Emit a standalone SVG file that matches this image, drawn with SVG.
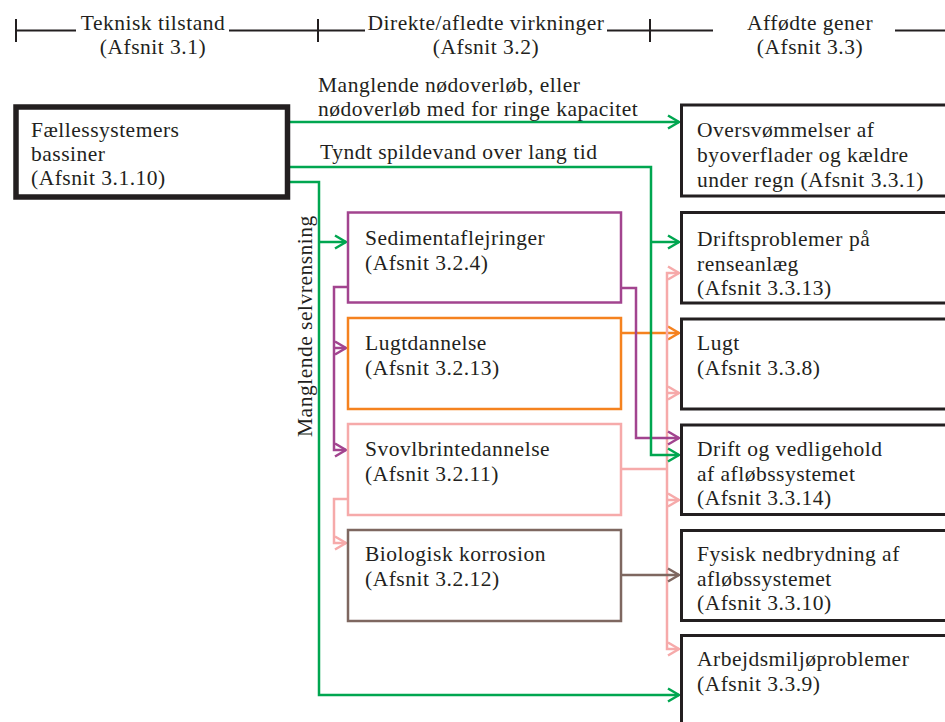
<svg xmlns="http://www.w3.org/2000/svg" width="945" height="722" viewBox="0 0 945 722">
  <style>
    text { font-family: "Liberation Serif", "Times New Roman", serif; font-size: 21.5px; letter-spacing: 0.5px; fill: #231f20; }
    .hdr { text-anchor: middle; }
    .rule { stroke: #231f20; stroke-width: 2; fill: none; }
    .box { fill: #fff; }
    .src { stroke: #231f20; stroke-width: 5.5; }
    .out { stroke: #231f20; stroke-width: 3; }
    .purple { stroke: #a2448f; }
    .orange { stroke: #f5821f; }
    .pink { stroke: #f6aaaa; }
    .brown { stroke: #7e6760; }
    .green { stroke: #00a650; }
    .mid { stroke-width: 2.5; }
    .wire { fill: none; stroke-width: 2.5; }
  </style>
  <defs>
    <marker id="ah-green" markerUnits="userSpaceOnUse" viewBox="-14 -9 16 18" refX="0" refY="0" markerWidth="16" markerHeight="18" orient="auto">
      <path d="M-11,-6.5 L0,0 L-11,6.5" fill="none" stroke="#00a650" stroke-width="2.5"/>
    </marker>
    <marker id="ah-purple" markerUnits="userSpaceOnUse" viewBox="-14 -9 16 18" refX="0" refY="0" markerWidth="16" markerHeight="18" orient="auto">
      <path d="M-11,-6.5 L0,0 L-11,6.5" fill="none" stroke="#a2448f" stroke-width="2.5"/>
    </marker>
    <marker id="ah-orange" markerUnits="userSpaceOnUse" viewBox="-14 -9 16 18" refX="0" refY="0" markerWidth="16" markerHeight="18" orient="auto">
      <path d="M-11,-6.5 L0,0 L-11,6.5" fill="none" stroke="#f5821f" stroke-width="2.5"/>
    </marker>
    <marker id="ah-pink" markerUnits="userSpaceOnUse" viewBox="-14 -9 16 18" refX="0" refY="0" markerWidth="16" markerHeight="18" orient="auto">
      <path d="M-11,-6.5 L0,0 L-11,6.5" fill="none" stroke="#f6aaaa" stroke-width="2.5"/>
    </marker>
    <marker id="ah-brown" markerUnits="userSpaceOnUse" viewBox="-14 -9 16 18" refX="0" refY="0" markerWidth="16" markerHeight="18" orient="auto">
      <path d="M-11,-6.5 L0,0 L-11,6.5" fill="none" stroke="#7e6760" stroke-width="2.5"/>
    </marker>
  </defs>

  <rect width="945" height="722" fill="#fff"/>

  <!-- column header rule -->
  <g id="header">
    <path class="rule" d="M16,19 V42 M16,30.5 H76 M229,30.5 H318 M318,19 V42 M318,30.5 H365 M607,30.5 H650 M650,19 V42 M650,30.5 H713 M895,30.5 H945"/>
    <text class="hdr" x="153" y="30">Teknisk tilstand</text>
    <text class="hdr" x="153" y="54">(Afsnit 3.1)</text>
    <text class="hdr" x="486" y="30">Direkte/afledte virkninger</text>
    <text class="hdr" x="486" y="54">(Afsnit 3.2)</text>
    <text class="hdr" x="810" y="30">Affødte gener</text>
    <text class="hdr" x="810" y="54">(Afsnit 3.3)</text>
  </g>

  <!-- connectors -->
  <g id="connectors">
    <path class="wire orange" d="M621,333 H679" marker-end="url(#ah-orange)"/>
    <path class="wire pink" d="M621,469 H667"/>
    <path class="wire pink" d="M667,469 V273 H679" marker-end="url(#ah-pink)"/>
    <path class="wire pink" d="M667,469 V649 H679" marker-end="url(#ah-pink)"/>
    <path class="wire pink" d="M667,393 H679" marker-end="url(#ah-pink)"/>
    <path class="wire pink" d="M667,500 H679" marker-end="url(#ah-pink)"/>
    <path class="wire pink" d="M348,499 H334 V543 H346" marker-end="url(#ah-pink)"/>
    <path class="wire brown" d="M621,575 H679" marker-end="url(#ah-brown)"/>
    <path class="wire purple" d="M348,287 H334 V450 H346" marker-end="url(#ah-purple)"/>
    <path class="wire purple" d="M334,348 H346" marker-end="url(#ah-purple)"/>
    <path class="wire purple" d="M621,288 H636 V438 H679" marker-end="url(#ah-purple)"/>
    <path class="wire green" d="M287,122 H679" marker-end="url(#ah-green)"/>
    <path class="wire green" d="M287,167 H651 V455 H679" marker-end="url(#ah-green)"/>
    <path class="wire green" d="M651,242 H679" marker-end="url(#ah-green)"/>
    <path class="wire green" d="M287,182 H319 V695 H679" marker-end="url(#ah-green)"/>
    <path class="wire green" d="M319,242 H346" marker-end="url(#ah-green)"/>
    <text x="318" y="92">Manglende nødoverløb, eller</text>
    <text x="318" y="116">nødoverløb med for ringe kapacitet</text>
    <text x="320" y="159">Tyndt spildevand over lang tid</text>
    <text transform="translate(312,437) rotate(-90)">Manglende selvrensning</text>
  </g>

  <!-- source -->
  <g id="n-faellessystemer">
    <rect class="box src" x="16" y="107" width="271.5" height="90"/>
    <text x="31" y="137">Fællessystemers</text>
    <text x="31" y="161">bassiner</text>
    <text x="31" y="185">(Afsnit 3.1.10)</text>
  </g>

  <!-- direct effects -->
  <g id="n-sediment">
    <rect class="box purple mid" x="348" y="212.5" width="273" height="90"/>
    <text x="365" y="245">Sedimentaflejringer</text>
    <text x="365" y="269.5">(Afsnit 3.2.4)</text>
  </g>
  <g id="n-lugtdannelse">
    <rect class="box orange mid" x="348" y="318" width="273" height="91"/>
    <text x="365" y="350">Lugtdannelse</text>
    <text x="365" y="374.5">(Afsnit 3.2.13)</text>
  </g>
  <g id="n-svovlbrinte">
    <rect class="box pink mid" x="348" y="424" width="273" height="91"/>
    <text x="365" y="456">Svovlbrintedannelse</text>
    <text x="365" y="480.5">(Afsnit 3.2.11)</text>
  </g>
  <g id="n-korrosion">
    <rect class="box brown mid" x="348" y="530" width="273" height="91"/>
    <text x="365" y="561">Biologisk korrosion</text>
    <text x="365" y="585.5">(Afsnit 3.2.12)</text>
  </g>

  <!-- consequences -->
  <g id="n-oversvoemmelser">
    <rect class="box out" x="681.5" y="105" width="270" height="91"/>
    <text x="697" y="137">Oversvømmelser af</text>
    <text x="697" y="162">byoverflader og kældre</text>
    <text x="697" y="187">under regn (Afsnit 3.3.1)</text>
  </g>
  <g id="n-driftsproblemer">
    <rect class="box out" x="681.5" y="212.5" width="270" height="90.5"/>
    <text x="697" y="246">Driftsproblemer på</text>
    <text x="697" y="270.5">renseanlæg</text>
    <text x="697" y="295">(Afsnit 3.3.13)</text>
  </g>
  <g id="n-lugt">
    <rect class="box out" x="681.5" y="319" width="270" height="90"/>
    <text x="697" y="350">Lugt</text>
    <text x="697" y="374.5">(Afsnit 3.3.8)</text>
  </g>
  <g id="n-drift">
    <rect class="box out" x="681.5" y="425" width="270" height="89.5"/>
    <text x="697" y="456">Drift og vedligehold</text>
    <text x="697" y="480.5">af afløbssystemet</text>
    <text x="697" y="505">(Afsnit 3.3.14)</text>
  </g>
  <g id="n-fysisk">
    <rect class="box out" x="681.5" y="530.5" width="270" height="90"/>
    <text x="697" y="561">Fysisk nedbrydning af</text>
    <text x="697" y="585.5">afløbssystemet</text>
    <text x="697" y="610">(Afsnit 3.3.10)</text>
  </g>
  <g id="n-arbejdsmiljoe">
    <rect class="box out" x="681.5" y="635.5" width="270" height="100"/>
    <text x="697" y="666">Arbejdsmiljøproblemer</text>
    <text x="697" y="690.5">(Afsnit 3.3.9)</text>
  </g>
</svg>
